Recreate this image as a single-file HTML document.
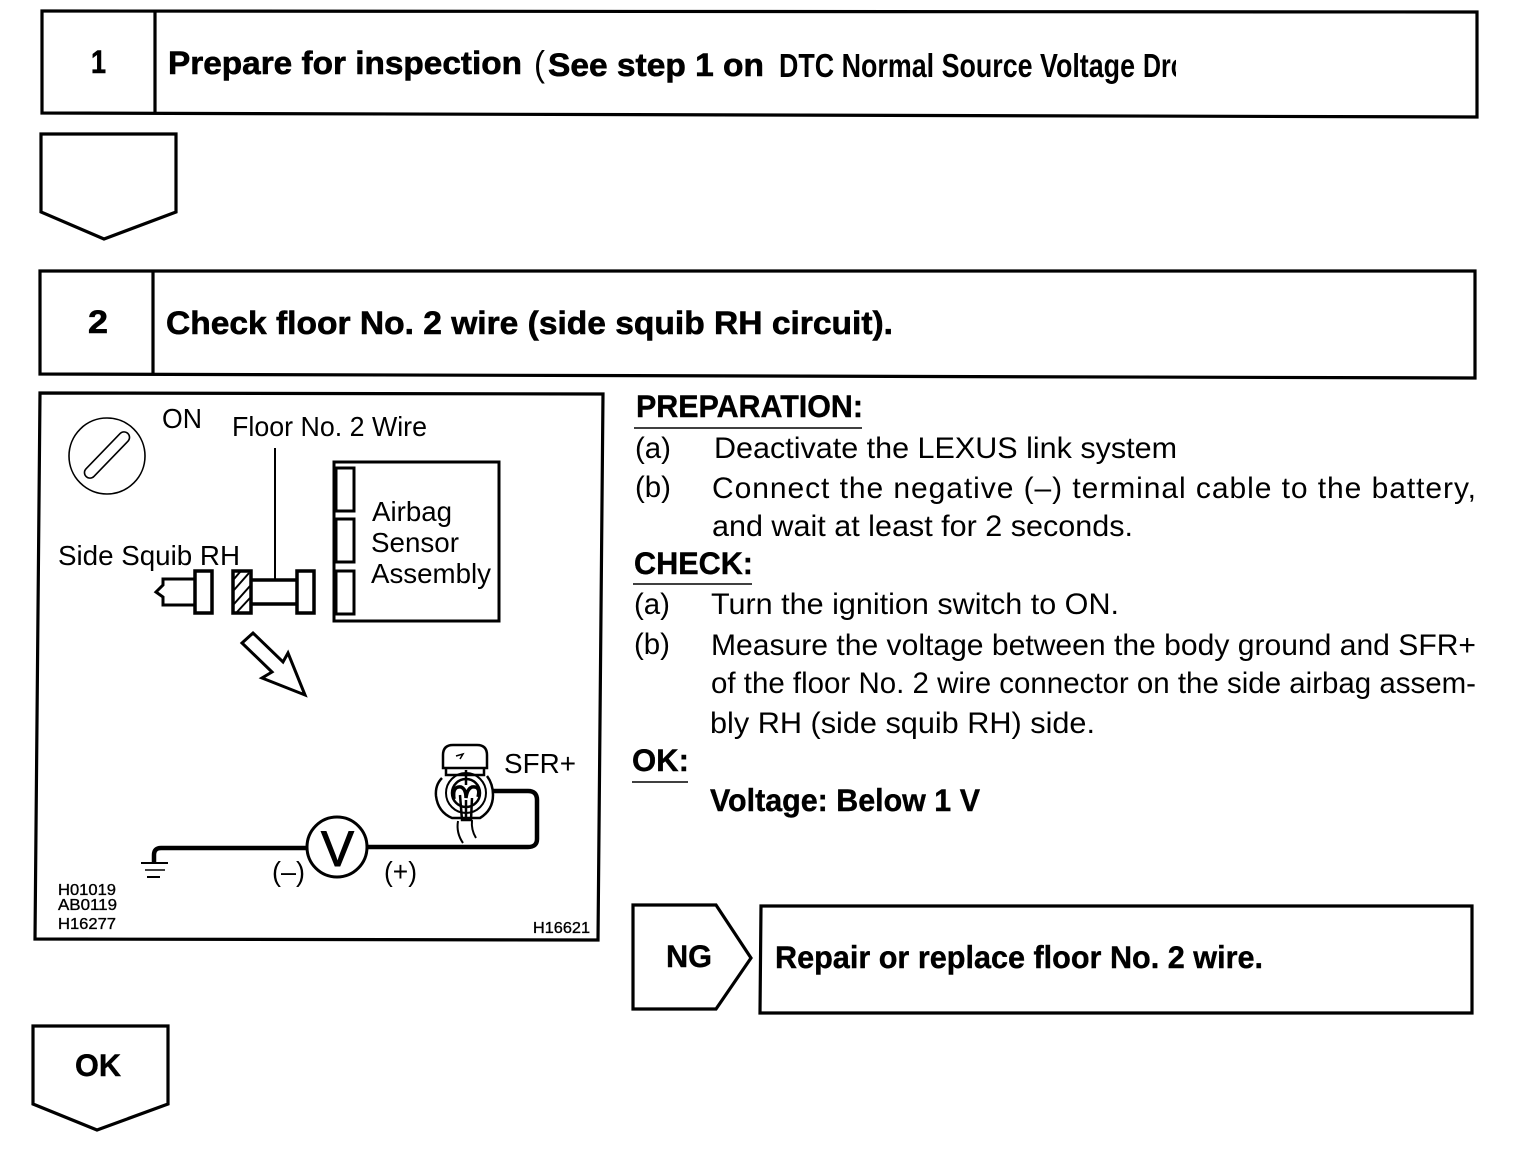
<!DOCTYPE html>
<html><head><meta charset="utf-8"><style>
html,body{margin:0;padding:0;background:#fff}
svg{display:block}
text{font-family:"Liberation Sans",sans-serif;fill:#000;white-space:pre}
.b{font-weight:bold}
.t{font-size:31.5px;stroke:#000;stroke-width:.4}
.h{font-size:32.5px;font-weight:bold;stroke:#000;stroke-width:.6}
.p{font-size:30px}
.d{font-size:28px}
.s{font-size:16px;stroke:#000;stroke-width:.35}
</style></head><body>
<svg width="1520" height="1158" viewBox="0 0 1520 1158" xmlns="http://www.w3.org/2000/svg">
<defs><clipPath id="c"><rect x="1100" y="30" width="76" height="70"/></clipPath></defs>
<g fill="none" stroke="#000" stroke-width="3.2">
<path d="M42 11 L1477 12 L1477 117 L42 113 Z"/>
<path d="M155 11 V113"/>
<path d="M41 134 H176 V212 L104 239 L41 212 Z"/>
<path d="M40 271 H1475 V378 L40 374 Z"/>
<path d="M153 271 V374"/>
<path d="M40 393 L603 394 L598 940 L35 939 Z"/>
<path d="M633 905 H716 L751 958 L716 1009 H633 Z"/>
<path d="M761 906 H1472 V1013 H760 Z"/>
<path d="M33 1026 H168 V1104 L97 1130 L33 1104 Z"/>
</g>
<g>
<text class="h" x="91" y="73" textLength="15" lengthAdjust="spacingAndGlyphs">1</text>
<text class="h" x="168" y="74" textLength="354" lengthAdjust="spacingAndGlyphs">Prepare for inspection</text>
<text x="534" y="76" font-size="36" textLength="11" lengthAdjust="spacingAndGlyphs">(</text>
<text class="h" x="548" y="76" textLength="216" lengthAdjust="spacingAndGlyphs">See step 1 on</text>
<text x="779" y="77" font-size="33" font-weight="bold" textLength="356" lengthAdjust="spacingAndGlyphs">DTC Normal Source Voltage</text>
<text x="1143" y="77" font-size="33" font-weight="bold" textLength="43" lengthAdjust="spacingAndGlyphs" clip-path="url(#c)">Dro</text>
<text class="h" x="88" y="333" textLength="20" lengthAdjust="spacingAndGlyphs">2</text>
<text class="h" x="166" y="334" textLength="727" lengthAdjust="spacingAndGlyphs">Check floor No. 2 wire (side squib RH circuit).</text>
<text class="t b" x="636" y="417" textLength="227" lengthAdjust="spacingAndGlyphs">PREPARATION:</text>
<text class="p" x="635" y="458" textLength="36" lengthAdjust="spacingAndGlyphs">(a)</text>
<text class="p" x="714" y="458" textLength="463" lengthAdjust="spacingAndGlyphs">Deactivate the LEXUS link system</text>
<text class="p" x="635" y="497" textLength="36" lengthAdjust="spacingAndGlyphs">(b)</text>
<text class="p" x="712" y="498" textLength="764" lengthAdjust="spacing">Connect the negative (–) terminal cable to the battery,</text>
<text class="p" x="712" y="536" textLength="421" lengthAdjust="spacingAndGlyphs">and wait at least for 2 seconds.</text>
<text class="t b" x="634" y="574" textLength="119" lengthAdjust="spacingAndGlyphs">CHECK:</text>
<text class="p" x="634" y="614" textLength="36" lengthAdjust="spacingAndGlyphs">(a)</text>
<text class="p" x="711" y="614" textLength="408" lengthAdjust="spacingAndGlyphs">Turn the ignition switch to ON.</text>
<text class="p" x="634" y="654" textLength="36" lengthAdjust="spacingAndGlyphs">(b)</text>
<text class="p" x="711" y="655" textLength="765" lengthAdjust="spacingAndGlyphs">Measure the voltage between the body ground and SFR+</text>
<text class="p" x="711" y="693" textLength="765" lengthAdjust="spacingAndGlyphs">of the floor No. 2 wire connector on the side airbag assem-</text>
<text class="p" x="710" y="733" textLength="385" lengthAdjust="spacingAndGlyphs">bly RH (side squib RH) side.</text>
<text class="t b" x="632" y="771" textLength="57" lengthAdjust="spacingAndGlyphs">OK:</text>
<text class="t b" x="710" y="811" textLength="270" lengthAdjust="spacingAndGlyphs">Voltage: Below 1 V</text>
<text class="t b" x="666" y="967" textLength="46" lengthAdjust="spacingAndGlyphs">NG</text>
<text class="t b" x="775" y="968" textLength="488" lengthAdjust="spacingAndGlyphs">Repair or replace floor No. 2 wire.</text>
<text class="t b" x="75" y="1076" textLength="46" lengthAdjust="spacingAndGlyphs">OK</text>
</g>
<g stroke="#000" stroke-width="1.5" fill="none">
<path d="M634 428 H862"/><path d="M633 584 H752"/><path d="M632 782 H688"/>
</g>
<g>
<text class="d" x="162" y="428" textLength="40" lengthAdjust="spacingAndGlyphs">ON</text>
<text class="d" x="232" y="436" textLength="195" lengthAdjust="spacingAndGlyphs">Floor No. 2 Wire</text>
<text class="d" x="372" y="521" textLength="80" lengthAdjust="spacingAndGlyphs">Airbag</text>
<text class="d" x="371" y="552" textLength="88" lengthAdjust="spacingAndGlyphs">Sensor</text>
<text class="d" x="371" y="583" textLength="120" lengthAdjust="spacingAndGlyphs">Assembly</text>
<text class="d" x="58" y="565" textLength="182" lengthAdjust="spacingAndGlyphs">Side Squib RH</text>
<text class="d" x="504" y="773" textLength="72" lengthAdjust="spacingAndGlyphs">SFR+</text>
<text class="d" x="272" y="881" textLength="33" lengthAdjust="spacingAndGlyphs">(–)</text>
<text class="d" x="384" y="881" textLength="33" lengthAdjust="spacingAndGlyphs">(+)</text>
<text class="s" x="58" y="895" textLength="58" lengthAdjust="spacingAndGlyphs">H01019</text>
<text class="s" x="58" y="910" textLength="59" lengthAdjust="spacingAndGlyphs">AB0119</text>
<text class="s" x="58" y="929" textLength="58" lengthAdjust="spacingAndGlyphs">H16277</text>
<text class="s" x="533" y="933" textLength="57" lengthAdjust="spacingAndGlyphs">H16621</text>
<text x="321" y="866" font-size="50" textLength="33" lengthAdjust="spacingAndGlyphs" stroke="#000" stroke-width="1">V</text>
</g>
<g fill="none" stroke="#000">
<circle cx="107" cy="456" r="38" stroke-width="1.6"/>
<rect x="-30" y="-5.5" width="60" height="11" rx="5.5" transform="translate(107 455) rotate(-46)" stroke-width="1.6"/>
<path d="M275 448 V580" stroke-width="2"/>
<rect x="334" y="462" width="165" height="159" stroke-width="3"/>
<rect x="336" y="468" width="18" height="43" stroke-width="3"/>
<rect x="336" y="519" width="18" height="43" stroke-width="3"/>
<rect x="336" y="571" width="18" height="43" stroke-width="3"/>
<path d="M194 579 H163 V585 L156 592 L163 597 V605 H194" stroke-width="3"/>
<rect x="195" y="571" width="17" height="42" stroke-width="3.5"/>
<rect x="233" y="571" width="18" height="42" stroke-width="3.5"/>
<path d="M234 590 L249 573 M234 604 L250 586 M237 612 L250 598 M234 579 L240 572" stroke-width="2"/>
<path d="M251 580 H297 M251 604 H297" stroke-width="3.5"/>
<rect x="297" y="571" width="17" height="42" stroke-width="3.5"/>
<path d="M242 643 L253 633 L283 662 L288 653 L305 695 L262 678 L272 672 Z" stroke-width="3"/>
<path d="M154 862 V855 Q154 848 161 848 H307 M368 847 H528 Q537 847 537 839 V800 Q537 791 528 791 H492" stroke-width="4.5"/>
<path d="M141 863 H168" stroke-width="2"/><path d="M145 870 H165" stroke-width="1.5"/><path d="M147 877 H160" stroke-width="2"/>
<circle cx="337" cy="847" r="30" stroke-width="3"/>
<path d="M443 768 V755 Q443 745 453 745 H477 Q487 745 487 755 V768 Z" stroke-width="2.5"/>
<path d="M446 768 V775 H484 V768" stroke-width="2.5"/>
<path d="M442 778 Q435 785 436 796 Q438 812 452 818 L480 818 Q493 810 493 795 Q493 784 487 776" stroke-width="2.5"/>
<circle cx="466" cy="793" r="20" stroke-width="2"/>
<circle cx="466" cy="793" r="14" stroke-width="2.5"/>
<path d="M454 799 Q452 786 461 787 Q466 789 466 798 Q467 789 472 787 Q481 786 478 797" stroke-width="3.5"/>
<path d="M460 795 L462 820 H471 L472 798 M466 770 V785 M466 800 V818" stroke-width="2.5"/>
<path d="M458 821 Q456 833 463 843 M472 820 Q471 830 476 838" stroke-width="2"/>
<path d="M456 756 L463 754 L460 759" stroke-width="1.5"/>
</g>
</svg>
</body></html>
